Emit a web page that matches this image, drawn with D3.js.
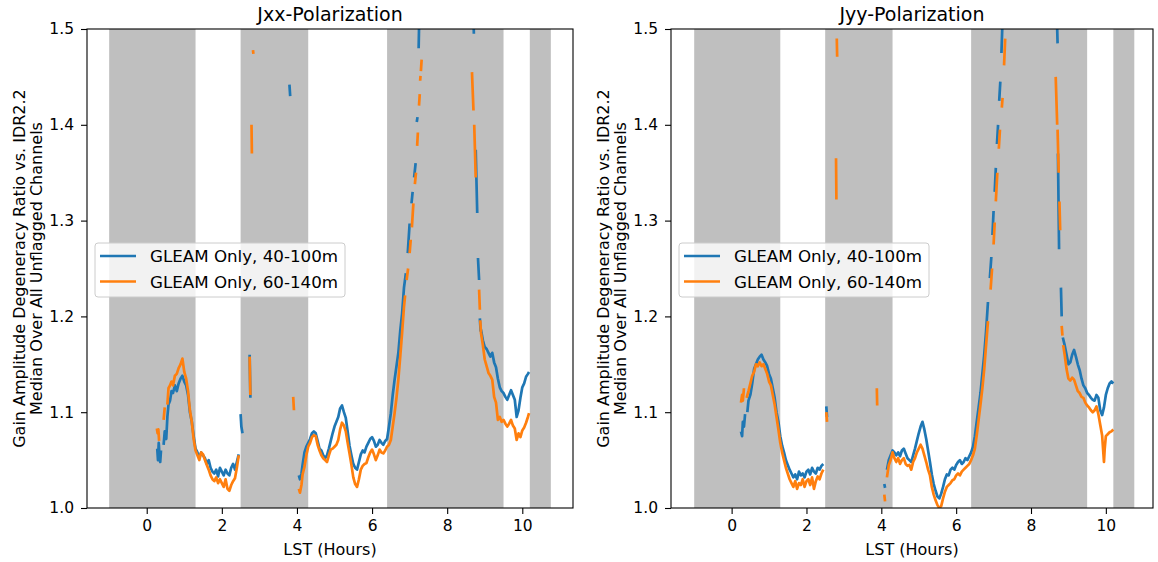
<!DOCTYPE html>
<html>
<head>
<meta charset="utf-8">
<script src="https://cdn.jsdelivr.net/npm/d3@7"></script>
<style>
  body { margin: 0; background: #fff; }
  text { font-family: "DejaVu Sans", sans-serif; fill: #000; }
</style>
</head>
<body>
<div id="chart"></div>
<script>
// flagged LST ranges (grey bands), hours
var flagBands = [[-1.0, 1.3], [2.5, 4.3], [6.4, 9.5], [10.2, 10.76]];
var xTicks = [0, 2, 4, 6, 8, 10];
var yTicks = [1.0, 1.1, 1.2, 1.3, 1.4, 1.5];
var seriesNames = ["GLEAM Only, 40-100m", "GLEAM Only, 60-140m"];

// [LST hours, median ratio]; null value = gap
var jxx40to100 = [
  [0.28,1.062],[0.30,1.050],[0.32,1.068],[0.34,1.055],[0.36,1.048],[0.38,1.060],[0.40,null],
  [0.45,1.066],[0.48,1.080],[0.52,1.072],[0.55,1.095],[0.58,1.108],[0.62,1.112],[0.66,1.122],
  [0.70,1.120],[0.75,1.128],[0.80,1.122],[0.85,1.130],[0.90,1.135],[0.95,1.138],[1.00,1.132],
  [1.05,1.128],[1.10,1.118],[1.15,1.100],[1.20,1.090],[1.25,1.075],[1.30,1.062],[1.35,1.058],
  [1.40,1.052],[1.45,1.058],[1.50,1.055],[1.55,1.052],[1.60,1.046],[1.65,1.050],[1.70,1.042],
  [1.75,1.038],[1.80,1.036],[1.85,1.040],[1.90,1.033],[1.95,1.042],[2.00,1.038],[2.05,1.034],
  [2.10,1.040],[2.15,1.036],[2.20,1.034],[2.25,1.042],[2.30,1.046],[2.35,1.040],[2.40,1.048],
  [2.45,1.056],[2.47,null],
  [2.50,1.098],[2.52,1.085],[2.55,1.078],[2.57,null],
  [2.74,1.160],[2.76,1.115],[2.78,null],
  [3.80,1.442],[3.82,1.430],[3.84,null],
  [4.05,1.034],[4.08,1.030],[4.12,1.036],[4.15,1.045],[4.20,1.058],[4.25,1.064],[4.30,1.068],
  [4.35,1.072],[4.40,1.078],[4.45,1.080],[4.50,1.078],[4.55,1.070],[4.60,1.062],[4.65,1.060],
  [4.70,1.055],[4.75,1.052],[4.80,1.055],[4.85,1.062],[4.90,1.070],[4.95,1.078],[5.00,1.085],
  [5.05,1.090],[5.10,1.095],[5.15,1.104],[5.20,1.107],[5.25,1.100],[5.30,1.094],[5.35,1.080],
  [5.40,1.065],[5.45,1.055],[5.50,1.046],[5.55,1.042],[5.60,1.040],[5.65,1.048],[5.70,1.056],
  [5.75,1.060],[5.80,1.058],[5.85,1.064],[5.90,1.068],[5.95,1.072],[6.00,1.074],[6.05,1.070],
  [6.10,1.064],[6.15,1.066],[6.20,1.071],[6.25,1.068],[6.30,1.066],[6.35,1.070],[6.40,1.072],
  [6.45,1.085],[6.50,1.099],[6.55,1.118],[6.60,1.134],[6.65,1.148],[6.70,1.162],[6.75,1.185],
  [6.80,1.203],[6.85,1.230],[6.90,1.245],[6.92,null],
  [6.95,1.266],[7.00,1.297],[7.02,null],[7.05,1.318],[7.08,1.330],[7.10,null],
  [7.12,1.345],[7.16,1.360],[7.18,null],[7.19,1.403],[7.21,1.408],[7.22,null],
  [7.24,1.480],[7.26,1.520],[7.28,null],
  [8.70,1.515],[8.71,1.495],[8.72,null],
  [8.76,1.374],[8.80,1.308],[8.81,null],[8.82,1.261],[8.85,1.238],[8.86,null],
  [8.87,1.198],[8.89,1.185],[8.90,1.186],[8.95,1.175],[9.00,1.168],[9.05,1.166],[9.10,1.162],
  [9.15,1.158],[9.20,1.162],[9.25,1.152],[9.30,1.147],[9.35,1.135],[9.40,1.126],[9.45,1.122],
  [9.50,1.120],[9.55,1.116],[9.60,1.113],[9.65,1.118],[9.70,1.123],[9.75,1.118],[9.80,1.113],
  [9.85,1.095],[9.90,1.102],[9.95,1.115],[10.00,1.126],[10.05,1.130],[10.10,1.137],[10.15,1.140],
  [10.18,1.142]
];

var jxx60to140 = [
  [0.27,1.083],[0.29,1.078],[0.31,1.082],[0.33,1.070],[0.35,null],
  [0.45,1.092],[0.48,1.105],[0.50,null],[0.55,1.108],[0.58,1.125],[0.62,1.128],[0.66,1.132],
  [0.70,1.128],[0.75,1.138],[0.80,1.140],[0.85,1.146],[0.90,1.150],[0.95,1.156],[1.00,1.142],
  [1.05,1.135],[1.10,1.122],[1.15,1.102],[1.20,1.090],[1.25,1.072],[1.30,1.060],[1.35,1.055],
  [1.40,1.050],[1.45,1.058],[1.50,1.056],[1.55,1.050],[1.60,1.045],[1.65,1.040],[1.70,1.034],
  [1.75,1.030],[1.80,1.028],[1.85,1.032],[1.90,1.026],[1.95,1.030],[2.00,1.026],[2.05,1.022],
  [2.10,1.030],[2.15,1.020],[2.20,1.018],[2.25,1.024],[2.30,1.028],[2.35,1.031],[2.40,1.042],
  [2.45,1.055],[2.47,null],
  [2.74,1.158],[2.76,1.118],[2.77,null],
  [2.79,1.400],[2.80,1.370],[2.81,null],
  [2.83,1.478],[2.84,1.474],[2.85,null],
  [3.90,1.116],[3.92,1.102],[3.93,null],
  [4.05,1.020],[4.08,1.016],[4.12,1.024],[4.15,1.035],[4.20,1.043],[4.25,1.055],[4.30,1.064],
  [4.35,1.068],[4.40,1.074],[4.45,1.076],[4.50,1.075],[4.55,1.066],[4.60,1.060],[4.65,1.055],
  [4.70,1.052],[4.75,1.050],[4.80,1.048],[4.85,1.055],[4.90,1.061],[4.95,1.062],[5.00,1.064],
  [5.05,1.066],[5.10,1.071],[5.15,1.082],[5.20,1.089],[5.25,1.086],[5.30,1.080],[5.35,1.068],
  [5.40,1.057],[5.45,1.045],[5.50,1.032],[5.55,1.025],[5.60,1.022],[5.65,1.030],[5.70,1.040],
  [5.75,1.044],[5.80,1.046],[5.85,1.047],[5.90,1.053],[5.95,1.058],[6.00,1.061],[6.05,1.056],
  [6.10,1.050],[6.15,1.055],[6.20,1.061],[6.25,1.058],[6.30,1.057],[6.35,1.060],[6.40,1.064],
  [6.45,1.066],[6.50,1.071],[6.55,1.085],[6.60,1.099],[6.65,1.115],[6.70,1.134],[6.75,1.158],
  [6.80,1.183],[6.85,1.210],[6.88,1.222],[6.90,null],
  [6.92,1.238],[6.96,1.250],[6.98,null],[7.00,1.266],[7.03,1.280],[7.04,null],
  [7.06,1.293],[7.10,1.318],[7.12,null],[7.14,1.338],[7.17,1.350],[7.18,null],
  [7.20,1.378],[7.22,1.392],[7.23,null],[7.25,1.420],[7.27,1.432],[7.275,null],
  [7.28,1.446],[7.29,1.451],[7.295,null],[7.30,1.456],[7.32,1.468],[7.33,null],
  [8.66,1.455],[8.70,1.415],[8.71,null],[8.72,1.400],[8.76,1.345],[8.77,null],
  [8.85,1.228],[8.87,1.207],[8.875,null],
  [8.88,1.196],[8.90,1.183],[8.95,1.170],[9.00,1.155],[9.05,1.148],[9.10,1.141],[9.15,1.138],
  [9.20,1.134],[9.25,1.116],[9.30,1.110],[9.35,1.092],[9.40,1.095],[9.45,1.090],[9.50,1.092],
  [9.55,1.088],[9.60,1.085],[9.65,1.088],[9.70,1.092],[9.75,1.086],[9.80,1.083],[9.85,1.071],
  [9.90,1.078],[9.95,1.074],[10.00,1.081],[10.05,1.084],[10.10,1.089],[10.15,1.095],[10.18,1.099]
];

var jyy40to100 = [
  [0.25,1.080],[0.28,1.075],[0.30,1.090],[0.33,1.085],[0.36,1.098],[0.38,null],
  [0.42,1.100],[0.45,1.112],[0.50,1.118],[0.55,1.130],[0.60,1.145],[0.65,1.150],[0.70,1.155],
  [0.75,1.158],[0.80,1.160],[0.85,1.155],[0.90,1.152],[0.95,1.148],[1.00,1.140],[1.05,1.135],
  [1.10,1.125],[1.15,1.115],[1.20,1.100],[1.25,1.090],[1.30,1.075],[1.35,1.065],[1.40,1.058],
  [1.45,1.050],[1.50,1.045],[1.55,1.040],[1.60,1.036],[1.65,1.032],[1.70,1.035],[1.75,1.030],
  [1.80,1.038],[1.85,1.034],[1.90,1.036],[1.95,1.032],[2.00,1.038],[2.05,1.040],[2.10,1.035],
  [2.15,1.042],[2.20,1.038],[2.25,1.036],[2.30,1.042],[2.35,1.040],[2.40,1.044],[2.45,1.046],
  [2.47,null],
  [2.53,1.106],[2.55,1.095],[2.56,null],
  [4.08,1.025],[4.10,1.021],[4.12,null],
  [4.15,1.040],[4.20,1.050],[4.25,1.055],[4.30,1.060],[4.35,1.058],[4.40,1.055],[4.45,1.058],
  [4.50,1.054],[4.55,1.060],[4.60,1.062],[4.65,1.057],[4.70,1.052],[4.75,1.050],[4.80,1.048],
  [4.85,1.055],[4.90,1.062],[4.95,1.070],[5.00,1.078],[5.05,1.085],[5.10,1.090],[5.15,1.082],
  [5.20,1.072],[5.25,1.060],[5.30,1.048],[5.35,1.035],[5.40,1.025],[5.45,1.018],[5.50,1.012],
  [5.55,1.010],[5.60,1.015],[5.65,1.022],[5.70,1.030],[5.75,1.035],[5.80,1.034],[5.85,1.040],
  [5.90,1.042],[5.95,1.040],[6.00,1.045],[6.05,1.048],[6.10,1.050],[6.15,1.046],[6.20,1.048],
  [6.25,1.052],[6.30,1.050],[6.35,1.054],[6.40,1.058],[6.45,1.064],[6.50,1.075],[6.55,1.090],
  [6.60,1.105],[6.65,1.120],[6.70,1.140],[6.75,1.160],[6.80,1.185],[6.85,1.215],[6.87,null],
  [6.90,1.240],[6.94,1.262],[6.95,null],[6.97,1.285],[7.00,1.310],[7.01,null],
  [7.03,1.330],[7.06,1.355],[7.07,null],[7.09,1.380],[7.12,1.400],[7.13,null],
  [7.15,1.425],[7.18,1.445],[7.19,null],[7.21,1.475],[7.24,1.510],[7.25,null],
  [8.70,1.500],[8.71,1.485],[8.715,null],
  [8.72,1.370],[8.75,1.270],[8.76,null],[8.80,1.230],[8.82,1.200],[8.83,null],
  [8.85,1.178],[8.90,1.170],[8.95,1.160],[9.00,1.150],[9.05,1.152],[9.10,1.160],[9.15,1.165],
  [9.20,1.158],[9.25,1.150],[9.30,1.144],[9.35,1.135],[9.40,1.128],[9.45,1.125],[9.50,1.120],
  [9.55,1.118],[9.60,1.115],[9.65,1.113],[9.70,1.112],[9.75,1.118],[9.80,1.115],[9.85,1.102],
  [9.90,1.097],[9.95,1.105],[10.00,1.118],[10.05,1.125],[10.10,1.130],[10.15,1.132],[10.20,1.130]
];

var jyy60to140 = [
  [0.25,1.110],[0.28,1.118],[0.30,1.112],[0.33,1.125],[0.35,null],
  [0.40,1.115],[0.45,1.122],[0.50,1.130],[0.55,1.138],[0.60,1.142],[0.65,1.150],[0.70,1.148],
  [0.75,1.152],[0.80,1.148],[0.85,1.150],[0.90,1.145],[0.95,1.140],[1.00,1.132],[1.05,1.128],
  [1.10,1.118],[1.15,1.108],[1.20,1.095],[1.25,1.082],[1.30,1.068],[1.35,1.058],[1.40,1.050],
  [1.45,1.042],[1.50,1.036],[1.55,1.030],[1.60,1.026],[1.65,1.022],[1.70,1.028],[1.75,1.020],
  [1.80,1.026],[1.85,1.024],[1.90,1.030],[1.95,1.022],[2.00,1.028],[2.05,1.030],[2.10,1.024],
  [2.15,1.032],[2.20,1.020],[2.25,1.028],[2.30,1.033],[2.35,1.030],[2.40,1.036],[2.45,1.040],
  [2.47,null],
  [2.53,1.100],[2.55,1.090],[2.56,null],
  [2.79,1.365],[2.80,1.322],[2.805,null],
  [2.81,1.490],[2.82,1.471],[2.83,null],
  [3.88,1.125],[3.89,1.107],[3.90,null],
  [4.08,1.014],[4.10,1.007],[4.12,null],
  [4.15,1.032],[4.20,1.045],[4.25,1.050],[4.30,1.058],[4.35,1.052],[4.40,1.048],[4.45,1.052],
  [4.50,1.046],[4.55,1.050],[4.60,1.052],[4.65,1.046],[4.70,1.044],[4.75,1.045],[4.80,1.040],
  [4.85,1.048],[4.90,1.052],[4.95,1.058],[5.00,1.062],[5.05,1.066],[5.10,1.062],[5.15,1.055],
  [5.20,1.048],[5.25,1.040],[5.30,1.034],[5.35,1.022],[5.40,1.014],[5.45,1.008],[5.50,1.003],
  [5.55,1.000],[5.60,1.002],[5.65,1.010],[5.70,1.017],[5.75,1.022],[5.80,1.024],[5.85,1.026],
  [5.90,1.029],[5.95,1.030],[6.00,1.034],[6.05,1.036],[6.10,1.034],[6.15,1.038],[6.20,1.040],
  [6.25,1.042],[6.30,1.044],[6.35,1.046],[6.40,1.050],[6.45,1.055],[6.50,1.062],[6.55,1.076],
  [6.60,1.092],[6.65,1.108],[6.70,1.125],[6.75,1.145],[6.80,1.170],[6.85,1.195],[6.87,null],
  [6.92,1.228],[6.96,1.250],[6.97,null],[7.00,1.275],[7.03,1.298],[7.04,null],
  [7.06,1.320],[7.10,1.350],[7.11,null],[7.14,1.375],[7.17,1.395],[7.18,null],
  [7.22,1.418],[7.24,1.428],[7.25,null],[7.28,1.462],[7.31,1.490],[7.32,null],
  [8.66,1.450],[8.70,1.400],[8.705,null],[8.71,1.395],[8.74,1.350],[8.745,null],
  [8.76,1.320],[8.78,1.290],[8.79,null],[8.82,1.190],[8.84,1.180],[8.845,null],
  [8.86,1.170],[8.90,1.160],[8.95,1.145],[9.00,1.135],[9.05,1.133],[9.10,1.136],[9.15,1.134],
  [9.20,1.128],[9.25,1.122],[9.30,1.120],[9.35,1.116],[9.40,1.115],[9.45,1.110],[9.50,1.107],
  [9.55,1.105],[9.60,1.102],[9.65,1.100],[9.70,1.102],[9.75,1.106],[9.80,1.098],[9.85,1.087],
  [9.90,1.076],[9.95,1.048],[9.97,1.062],[10.00,1.075],[10.05,1.077],[10.10,1.079],[10.15,1.080],
  [10.20,1.082]
];

var colors = ["#1f77b4", "#ff7f0e"];

var W = 1158, H = 562;
var svg = d3.select("#chart").append("svg")
    .attr("width", W)
    .attr("height", H);

function Draw_Panel(opt){
  var x = d3.scaleLinear().domain(opt.xDomain).range([opt.left, opt.right]);
  var y = d3.scaleLinear().domain([1.0, 1.5]).range([opt.bottom, opt.top]);

  var g = svg.append("g");

  var clipId = "clip" + opt.id;
  g.append("clipPath").attr("id", clipId)
    .append("rect")
      .attr("x", opt.left).attr("y", opt.top)
      .attr("width", opt.right - opt.left)
      .attr("height", opt.bottom - opt.top);

  var plot = g.append("g").attr("clip-path", "url(#" + clipId + ")");

  // flagged bands
  plot.selectAll("rect.band")
    .data(flagBands)
    .enter().append("rect")
      .attr("class", "band")
      .attr("x", function(d){ return x(d[0]); })
      .attr("width", function(d){ return x(d[1]) - x(d[0]); })
      .attr("y", opt.top)
      .attr("height", opt.bottom - opt.top)
      .attr("fill", "#bfbfbf");

  var line = d3.line()
    .defined(function(d){ return d[1] != null; })
    .x(function(d){ return x(d[0]); })
    .y(function(d){ return y(d[1]); });

  opt.series.forEach(function(s, i){
    plot.append("path")
      .datum(s)
      .attr("fill", "none")
      .attr("stroke", colors[i])
      .attr("stroke-width", 2.7)
      .attr("stroke-linejoin", "round")
      .attr("d", line);
  });

  // axes
  var xAxis = g.append("g")
    .attr("transform", "translate(0," + opt.bottom + ")")
    .call(d3.axisBottom(x).tickValues(xTicks).tickSize(6).tickPadding(6).tickFormat(d3.format("d")));
  var yAxis = g.append("g")
    .attr("transform", "translate(" + opt.left + ",0)")
    .call(d3.axisLeft(y).tickValues(yTicks).tickSize(6).tickPadding(7).tickFormat(d3.format(".1f")));

  [xAxis, yAxis].forEach(function(a){
    a.select(".domain").remove();
    a.selectAll("line").attr("stroke", "#000").attr("stroke-width", 1.1);
    a.selectAll("text").style("font-size", "15.5px").attr("fill", "#000");
  });

  // frame
  g.append("rect")
    .attr("x", opt.left).attr("y", opt.top)
    .attr("width", opt.right - opt.left)
    .attr("height", opt.bottom - opt.top)
    .attr("fill", "none")
    .attr("stroke", "#000")
    .attr("stroke-width", 1.1);

  // title
  g.append("text")
    .attr("x", (opt.left + opt.right) / 2)
    .attr("y", 21)
    .attr("text-anchor", "middle")
    .style("font-size", "19px")
    .text(opt.title);

  // x label
  g.append("text")
    .attr("x", (opt.left + opt.right) / 2)
    .attr("y", 555)
    .attr("text-anchor", "middle")
    .style("font-size", "16px")
    .text("LST (Hours)");

  // y label (two lines)
  var cy = (opt.top + opt.bottom) / 2;
  var yl = g.append("text")
    .attr("transform", "translate(" + (opt.left - 62) + "," + cy + ") rotate(-90)")
    .attr("text-anchor", "middle")
    .style("font-size", "16px");
  yl.append("tspan").attr("x", 0).attr("y", 0).text("Gain Amplitude Degeneracy Ratio vs. IDR2.2");
  yl.append("tspan").attr("x", 0).attr("y", 17).text("Median Over All Unflagged Channels");

  // legend
  var lx = opt.left + 8, ly = 243;
  var leg = g.append("g").attr("transform", "translate(" + lx + "," + ly + ")");
  leg.append("rect")
    .attr("width", 250).attr("height", 54)
    .attr("rx", 3).attr("ry", 3)
    .attr("fill", "#fff").attr("fill-opacity", 0.8)
    .attr("stroke", "#cccccc").attr("stroke-width", 1);
  seriesNames.forEach(function(name, i){
    var yy = 13 + i * 25.5;
    leg.append("line")
      .attr("x1", 5).attr("x2", 41)
      .attr("y1", yy).attr("y2", yy)
      .attr("stroke", colors[i]).attr("stroke-width", 2.7);
    leg.append("text")
      .attr("x", 55).attr("y", yy + 6)
      .style("font-size", "16.7px")
      .text(name);
  });
}

Draw_Panel({id: "xx", left: 87, right: 573, top: 29, bottom: 508,
  xDomain: [-1.59, 11.35], title: "Jxx-Polarization", series: [jxx40to100, jxx60to140]});
Draw_Panel({id: "yy", left: 671, right: 1153, top: 29, bottom: 508,
  xDomain: [-1.62, 11.26], title: "Jyy-Polarization", series: [jyy40to100, jyy60to140]});
</script>
</body>
</html>
